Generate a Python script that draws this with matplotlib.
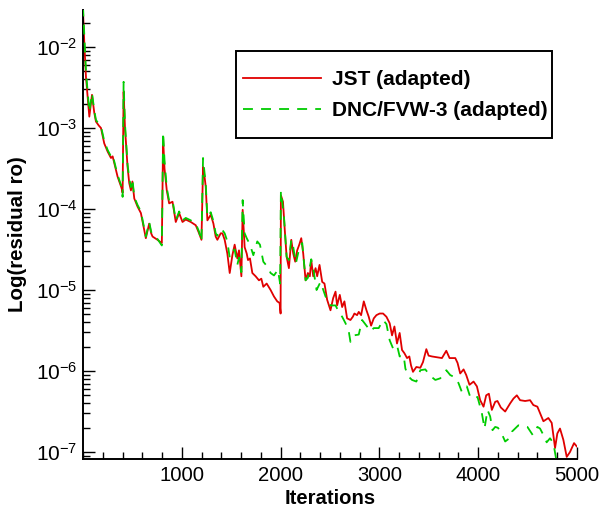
import numpy as np
import matplotlib
matplotlib.use("Agg")
import matplotlib.pyplot as plt
from matplotlib.ticker import LogLocator, MultipleLocator, FixedLocator, NullFormatter, FuncFormatter
from matplotlib.lines import Line2D
from matplotlib.patches import Rectangle

plt.rcParams['font.family'] = ['Liberation Sans', 'DejaVu Sans']
plt.rcParams['mathtext.fontset'] = 'custom'
plt.rcParams['mathtext.rm'] = 'Liberation Sans'
plt.rcParams['mathtext.it'] = 'Liberation Sans'
plt.rcParams['mathtext.bf'] = 'Liberation Sans:bold'

series_names = ["JST (adapted)", "DNC/FVW-3 (adapted)"]
x_label = "Iterations"
y_label = "Log(residual ro)"
x_tick_values = [1000, 2000, 3000, 4000, 5000]
y_tick_exponents = [-7, -6, -5, -4, -3, -2]

jst_iter = [0, 15, 30, 64, 91, 114, 131, 160, 182, 215, 249, 283, 300, 316, 350, 390, 401, 411, 425, 451,
            468, 485, 500, 519, 552, 586, 620, 636, 670, 690, 704, 754, 798, 811, 825, 848, 872, 906, 939, 973,
            1007, 1040, 1091, 1141, 1175, 1199, 1215, 1230, 1242, 1259, 1293, 1320, 1343, 1360, 1394, 1411,
            1434, 1461, 1485, 1512, 1535, 1562, 1579, 1603, 1616, 1636, 1657, 1670, 1690, 1714, 1747, 1781,
            1805, 1825, 1859, 1899, 1933, 1966, 1990, 2000, 2003, 2024, 2040, 2061, 2084, 2108, 2128, 2148,
            2168, 2189, 2209, 2229, 2253, 2276, 2296, 2310, 2330, 2354, 2370, 2394, 2421, 2444, 2471, 2505,
            2532, 2556, 2572, 2599, 2623, 2646, 2673, 2707, 2731, 2747, 2774, 2791, 2815, 2842, 2869, 2892,
            2916, 2943, 2970, 3003, 3037, 3071, 3104, 3128, 3152, 3178, 3205, 3229, 3253, 3280, 3303, 3320,
            3340, 3374, 3414, 3441, 3475, 3498, 3532, 3583, 3633, 3677, 3710, 3768, 3791, 3818, 3852, 3879,
            3912, 3953, 3987, 4020, 4054, 4081, 4108, 4138, 4172, 4195, 4229, 4273, 4323, 4357, 4391, 4424,
            4475, 4525, 4558, 4599, 4626, 4660, 4710, 4744, 4778, 4801, 4828, 4862, 4896, 4929, 4970, 4997]
jst_log10 = [-1.55, -2.0, -2.37, -2.86, -2.59, -2.81, -2.92, -2.97, -3.00, -3.19, -3.29, -3.37, -3.35, -3.43,
             -3.60, -3.74, -3.80, -2.55, -3.00, -3.48, -3.68, -3.77, -3.66, -3.87, -3.97, -4.05, -4.26, -4.36,
             -4.18, -4.30, -4.34, -4.38, -4.42, -3.13, -3.50, -3.77, -3.93, -3.91, -4.16, -4.05, -4.16, -4.13,
             -4.16, -4.20, -4.30, -4.38, -3.48, -3.60, -3.72, -4.14, -4.07, -4.18, -4.34, -4.38, -4.30, -4.30,
             -4.38, -4.55, -4.79, -4.57, -4.44, -4.61, -4.51, -4.83, -4.01, -4.47, -4.55, -4.63, -4.61, -4.79,
             -4.83, -4.88, -4.86, -4.96, -4.92, -5.00, -5.08, -5.14, -5.16, -5.29, -3.83, -3.91, -4.22, -4.59,
             -4.73, -4.38, -4.55, -4.65, -4.51, -4.44, -4.36, -4.55, -4.88, -4.79, -4.83, -4.63, -4.83, -4.73,
             -4.83, -4.69, -4.90, -4.92, -5.12, -5.25, -5.10, -5.02, -5.19, -5.06, -5.21, -5.14, -5.35, -5.37,
             -5.33, -5.29, -5.31, -5.27, -5.31, -5.14, -5.25, -5.33, -5.44, -5.35, -5.31, -5.29, -5.29, -5.33,
             -5.41, -5.56, -5.45, -5.66, -5.53, -5.74, -5.78, -5.84, -5.82, -5.93, -6.01, -5.95, -5.96, -5.89,
             -5.73, -5.81, -5.82, -5.83, -5.84, -5.75, -5.84, -5.84, -5.90, -6.03, -5.98, -6.05, -6.17, -6.13,
             -6.19, -6.36, -6.44, -6.30, -6.28, -6.48, -6.38, -6.37, -6.45, -6.50, -6.40, -6.34, -6.30, -6.36,
             -6.37, -6.36, -6.42, -6.44, -6.52, -6.62, -6.58, -6.64, -6.95, -6.77, -6.71, -6.85, -7.06, -7.00,
             -6.89, -6.93]

dnc_iter = [0, 15, 30, 64, 91, 114, 131, 160, 182, 215, 249, 283, 300, 316, 350, 390, 401, 411, 425, 451,
            468, 485, 500, 519, 552, 586, 620, 636, 670, 690, 704, 754, 798, 811, 825, 848, 872, 906, 939, 973,
            1007, 1040, 1091, 1141, 1175, 1199, 1215, 1230, 1242, 1259, 1293, 1320, 1343, 1360, 1394, 1411,
            1434, 1461, 1485, 1512, 1535, 1562, 1579, 1603, 1616, 1636, 1657, 1690, 1724, 1764, 1791, 1825,
            1865, 1899, 1933, 1973, 1995, 2003, 2034, 2061, 2084, 2108, 2128, 2155, 2189, 2219, 2253, 2276,
            2310, 2330, 2364, 2404, 2455, 2505, 2556, 2589, 2623, 2657, 2690, 2707, 2741, 2791, 2825, 2875,
            2909, 2943, 2993, 3037, 3071, 3104, 3138, 3178, 3205, 3246, 3263, 3296, 3330, 3374, 3414, 3465,
            3515, 3566, 3616, 3677, 3717, 3768, 3801, 3835, 3885, 3919, 3953, 3993, 4037, 4064, 4094, 4121,
            4145, 4172, 4199, 4229, 4273, 4316, 4340, 4374, 4407, 4458, 4498, 4552, 4599, 4626, 4660, 4693,
            4727, 4761, 4788, 4810]
dnc_log10 = [-1.50, -1.9, -2.30, -2.80, -2.57, -2.78, -2.90, -2.95, -2.98, -3.16, -3.27, -3.35, -3.33, -3.41,
             -3.58, -3.72, -3.85, -2.43, -2.95, -3.45, -3.62, -3.73, -3.63, -3.85, -3.95, -4.03, -4.24, -4.34,
             -4.16, -4.28, -4.32, -4.37, -4.45, -3.05, -3.40, -3.74, -3.90, -3.89, -4.14, -4.03, -4.14, -4.11,
             -4.14, -4.18, -4.28, -4.40, -3.37, -3.55, -3.68, -4.10, -4.04, -4.15, -4.30, -4.33, -4.25, -4.26,
             -4.30, -4.40, -4.60, -4.52, -4.50, -4.69, -4.60, -4.78, -3.89, -4.30, -4.36, -4.44, -4.57, -4.40,
             -4.44, -4.65, -4.71, -4.79, -4.82, -4.75, -4.92, -3.78, -4.09, -4.59, -4.63, -4.38, -4.47, -4.67,
             -4.48, -4.42, -4.88, -4.85, -4.62, -4.73, -5.00, -4.90, -5.08, -5.19, -5.19, -5.27, -5.33, -5.41,
             -5.51, -5.64, -5.56, -5.55, -5.37, -5.45, -5.51, -5.47, -5.47, -5.37, -5.42, -5.62, -5.72, -5.68,
             -5.82, -5.81, -5.97, -6.07, -6.11, -6.13, -5.99, -5.98, -6.06, -6.11, -6.09, -5.99, -6.05, -6.08,
             -6.15, -6.26, -6.19, -6.32, -6.34, -6.32, -6.52, -6.71, -6.48, -6.56, -6.73, -6.69, -6.70, -6.75,
             -6.87, -6.83, -6.75, -6.71, -6.67, -6.68, -6.69, -6.79, -6.69, -6.71, -6.79, -6.88, -6.83, -6.89,
             -7.08, -7.3]

jst_res = 10.0 ** np.array(jst_log10)
dnc_res = 10.0 ** np.array(dnc_log10)

red = '#e00000'
green = '#00cc00'
dash_pat = (5.5, 4.5)

W, H = 600, 511
fig = plt.figure(figsize=(W / 100, H / 100), dpi=100)
ax = fig.add_axes([83 / W, 1 - 459 / H, 494 / W, 449 / H])

ax.plot(jst_iter, jst_res, color=red, lw=1.3, zorder=2)
ax.plot(dnc_iter, dnc_res, color=green, lw=1.3, dashes=dash_pat, zorder=3)

ax.set_yscale('log')
ax.set_xlim(0, 5000)
ax.set_ylim(10 ** -7.086, 10 ** -1.543)

ax.xaxis.set_major_locator(FixedLocator(x_tick_values))
ax.xaxis.set_minor_locator(MultipleLocator(200))
ax.yaxis.set_major_locator(FixedLocator([10.0 ** e for e in y_tick_exponents]))
ax.yaxis.set_minor_locator(LogLocator(base=10, subs=np.arange(2, 10), numticks=20))
ax.yaxis.set_minor_formatter(NullFormatter())
ax.yaxis.set_major_formatter(FuncFormatter(
    lambda v, p: r'$\mathregular{10^{%d}}$' % int(round(np.log10(v)))))

for s in ['top', 'right']:
    ax.spines[s].set_visible(False)
for s in ['left', 'bottom']:
    ax.spines[s].set_linewidth(1.4)

ax.tick_params(which='major', direction='in', length=8.5, width=1.0, labelsize=14.6, pad=5)
ax.tick_params(which='minor', direction='in', length=5, width=1.0)
ax.tick_params(axis='y', which='major', labelsize=15, pad=4)

ax.set_xlabel(x_label, fontsize=14.6, fontweight='bold', labelpad=3)
ax.set_ylabel(y_label, fontsize=14.8, fontweight='bold', labelpad=6)

handles = [Line2D([], [], color=red, lw=1.3),
           Line2D([], [], color=green, lw=1.3, dashes=dash_pat)]
leg = fig.legend(handles, series_names, loc='upper left',
                 bbox_to_anchor=(243 / W, 1 - 70 / H), frameon=False,
                 prop={'weight': 'bold', 'size': 15},
                 handlelength=3.75, handletextpad=0.5, borderpad=0, labelspacing=0.58,
                 borderaxespad=0)
fig.add_artist(Rectangle((236 / W, 1 - 138 / H), 316 / W, 87 / H, transform=fig.transFigure,
                         facecolor='white', edgecolor='black', lw=1.4, zorder=4))
leg.set_zorder(5)

fig.savefig('out.png', dpi=100)
